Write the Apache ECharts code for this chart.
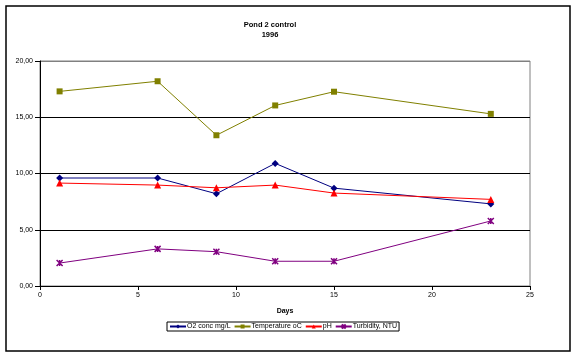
<!DOCTYPE html>
<html>
<head>
<meta charset="utf-8">
<script src="https://cdn.jsdelivr.net/npm/echarts@6/dist/echarts.min.js"></script>
<style>html,body{margin:0;padding:0;background:#fff}#c{width:576px;height:360px}</style>
</head>
<body>
<div id="c"></div>
<script>
var days = [1, 6, 9, 12, 15, 23];
var o2 = [9.6, 9.6, 8.2, 10.9, 8.7, 7.3];
var temperature = [17.3, 18.2, 13.4, 16.05, 17.27, 15.3];
var ph = [9.15, 8.97, 8.73, 8.97, 8.26, 7.7];
var turbidity = [2.04, 3.3, 3.05, 2.2, 2.2, 5.78];
var seriesNames = ['O2 conc mg/L', 'Temperature oC', 'pH', 'Turbidity, NTU'];

function pairs(vals) { return days.map(function (d, i) { return [d, vals[i]]; }); }

var chart = echarts.init(document.getElementById('c'));
var font = 'Liberation Sans, Arial, sans-serif';
var star = 'path://M0 0L10 10M10 0L0 10M5 0L5 10';

function mk(name, vals, color, symbol, size, extraItem) {
  return {
    name: name, type: 'line', data: pairs(vals),
    symbol: symbol, symbolSize: size,
    lineStyle: { color: color, width: 1 },
    itemStyle: extraItem || { color: color },
    animation: false
  };
}

chart.setOption({
  backgroundColor: '#fff',
  animation: false,
  title: {
    text: 'Pond 2 control\n1996',
    left: 265, top: 15, textAlign: 'center',
    textStyle: { fontFamily: font, fontSize: 7.5, fontWeight: 'bold', color: '#000', lineHeight: 10 }
  },
  grid: { left: 40, right: 46, top: 61, bottom: 74, show: true, borderColor: '#808080', borderWidth: 1 },
  xAxis: {
    type: 'value', min: 0, max: 25, interval: 5,
    name: 'Days', nameLocation: 'middle', nameGap: 22,
    nameTextStyle: { fontFamily: font, fontSize: 7, fontWeight: 'bold', color: '#000' },
    axisLine: { onZero: false, lineStyle: { color: '#000', width: 1 } },
    axisTick: { show: true, length: 4, lineStyle: { color: '#000' } },
    axisLabel: { fontFamily: font, fontSize: 7, color: '#000', margin: 6 },
    splitLine: { show: false }
  },
  yAxis: {
    type: 'value', min: 0, max: 20, interval: 5,
    axisLine: { show: true, lineStyle: { color: '#000', width: 1 } },
    axisTick: { show: true, length: 5, lineStyle: { color: '#000' } },
    axisLabel: { fontFamily: font, fontSize: 7, color: '#000', margin: 7,
      formatter: function (v) { return v.toFixed(2).replace('.', ','); } },
    splitLine: { show: true, lineStyle: { color: ['#000', '#000', '#000', '#000', '#808080'], width: 1 } }
  },
  legend: {
    data: seriesNames,
    left: 167, top: 322,
    orient: 'horizontal',
    borderColor: '#000', borderWidth: 1, padding: [1, 2],
    itemGap: 3, itemWidth: 16, itemHeight: 5,
    textStyle: { fontFamily: font, fontSize: 7, color: '#000', padding: [0, 0, 0, -4] }
  },
  series: [
    mk(seriesNames[0], o2, '#000080', 'diamond', 7),
    mk(seriesNames[1], temperature, '#808000', 'rect', 6),
    mk(seriesNames[2], ph, '#ff0000', 'triangle', 7),
    mk(seriesNames[3], turbidity, '#800080', star, 6, { color: 'transparent', borderColor: '#800080', borderWidth: 1.5 })
  ],
  graphic: [{
    type: 'rect', shape: { x: 6, y: 6, width: 564, height: 345 },
    style: { fill: 'none', stroke: '#000', lineWidth: 1.5 }, silent: true
  }]
});
</script>
</body>
</html>
